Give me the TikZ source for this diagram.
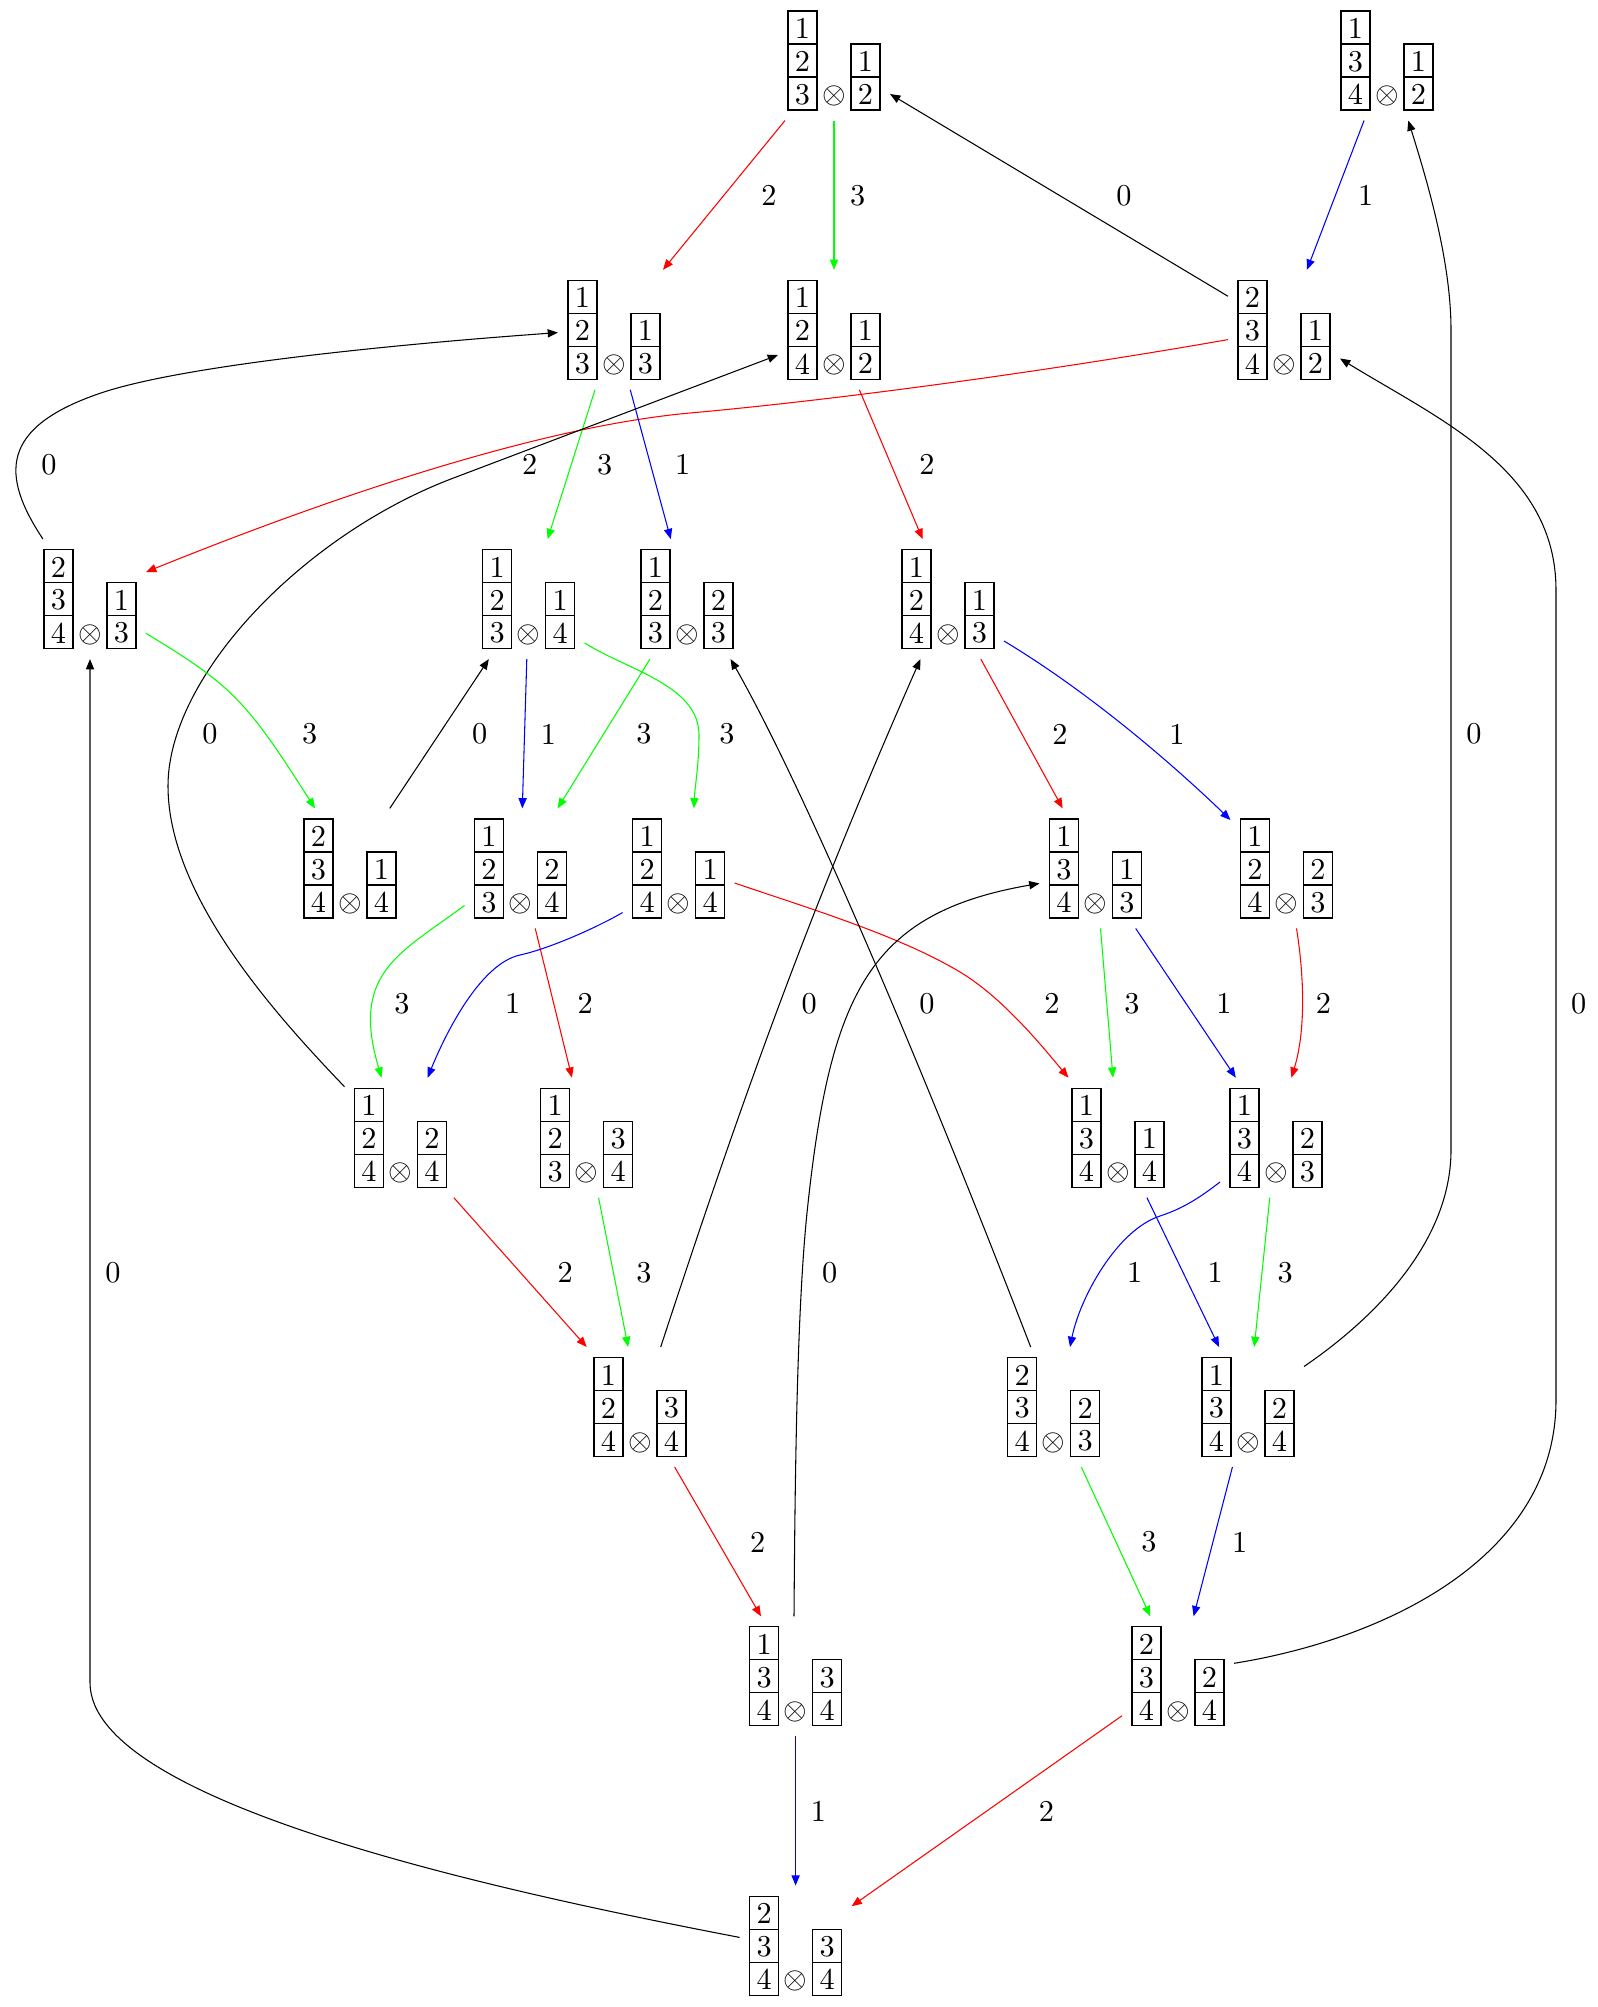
\documentclass[tikz,border=0pt]{standalone}
\usetikzlibrary{arrows.meta}
\tikzset{
  dotnode/.style={rectangle,minimum width=36.96pt,minimum height=39.6pt,inner sep=0pt,outer sep=0pt},
  boxline/.style={line width=0.4pt},
  dig/.style={inner sep=0pt},
  lab/.style={inner sep=0pt},
  conn/.style={line width=0.35pt,-{Triangle[length=3.4pt,width=2.7pt]}},
  e0/.style={conn,black},
  e1/.style={conn,blue},
  e2/.style={conn,red},
  e3/.style={conn,green},
}
\newcommand{\crys}[8]{%
  \node[dotnode] (#1) at (#2,#3) {};
  \begin{scope}[shift={(#2,#3)}]
    \draw[boxline] (-46,-49.5) rectangle (-17,49.5);
    \draw[boxline] (-46,-16.5) -- (-17,-16.5) (-46,16.5) -- (-17,16.5);
    \draw[boxline] (17,-16.5) rectangle (46,49.5);
    \draw[boxline] (17,16.5) -- (46,16.5);
    \node[dig] (#1-a) at (-31.5,-32) {#4};
    \node[dig] (#1-b) at (-31.5,1) {#5};
    \node[dig] (#1-c) at (-31.5,34) {#6};
    \node[dig] (#1-d) at (31.5,1) {#7};
    \node[dig] (#1-e) at (31.5,34) {#8};
    \node[dig] (#1-x) at (0,35.5) {$\otimes$};
  \end{scope}}
\begin{document}
\begin{tikzpicture}[x=0.33pt,y=-0.33pt]
\useasboundingbox (0,0) rectangle (1598,2007);
\crys{A}{834}{60.5}{1}{2}{3}{1}{2}
\crys{B}{1387}{60.5}{1}{3}{4}{1}{2}
\crys{C}{614}{329.8}{1}{2}{3}{1}{3}
\crys{D}{834}{329.8}{1}{2}{4}{1}{2}
\crys{E}{1284}{329.8}{2}{3}{4}{1}{2}
\crys{F}{90}{599.1}{2}{3}{4}{1}{3}
\crys{G}{528.6}{599.1}{1}{2}{3}{1}{4}
\crys{H}{687}{599.1}{1}{2}{3}{2}{3}
\crys{I}{948}{599.1}{1}{2}{4}{1}{3}
\crys{J}{350}{868.4}{2}{3}{4}{1}{4}
\crys{K}{520.5}{868.4}{1}{2}{3}{2}{4}
\crys{L}{678.6}{868.4}{1}{2}{4}{1}{4}
\crys{M}{1095.5}{868.4}{1}{3}{4}{1}{3}
\crys{N}{1286.5}{868.4}{1}{2}{4}{2}{3}
\crys{O}{400.5}{1137.7}{1}{2}{4}{2}{4}
\crys{P}{586.7}{1137.7}{1}{2}{3}{3}{4}
\crys{Q}{1118}{1137.7}{1}{3}{4}{1}{4}
\crys{R}{1276}{1137.7}{1}{3}{4}{2}{3}
\crys{S}{640}{1407}{1}{2}{4}{3}{4}
\crys{T}{1053.6}{1407}{2}{3}{4}{2}{3}
\crys{U}{1248}{1407}{1}{3}{4}{2}{4}
\crys{V}{795.6}{1676.3}{1}{3}{4}{3}{4}
\crys{W}{1178}{1676.3}{2}{3}{4}{2}{4}
\crys{X}{795.6}{1945.6}{2}{3}{4}{3}{4}
% edges
\draw[e2] (A) -- (C);
\draw[e3] (A) -- (D);
\draw[e0] (E) -- (A);
\draw[e1] (B) -- (E);
\draw[e2] ([shift={(-56,9.8)}]E.center) .. controls (1049,371) and (840,399.5) .. (690,413) .. controls (540,426.5) and (331.4,497) .. ([shift={(56,-27.1)}]F.center);
\draw[e0] ([shift={(-47,-60)}]F.center) .. controls (0.5,475.1) and (-0.1,427.5) .. (100,393.3) .. controls (185.1,364.2) and (408.5,343.3) .. ([shift={(-56,2.8)}]C.center);
\draw[e3] (C) -- (G);
\draw[e1] (C) -- (H);
\draw[e2] (D) -- (I);
\draw[e0] ([shift={(-56,-51)}]O.center) .. controls (276,1015.2) and (168,896) .. (168,786) .. controls (168,676) and (303.4,534.8) .. (453,478.2) -- ([shift={(-56,25.2)}]D.center);
\draw[e3] ([shift={(56,34.2)}]F.center) .. controls (232.3,685.6) and (246.3,700.4) .. ([shift={(-35,-60)}]J.center);
\draw[e0] (J) -- (G);
\draw[e1] (G) -- (K);
\draw[e3] (H) -- (K);
\draw[e3] ([shift={(56,43.8)}]G.center) .. controls (626.4,669.7) and (699,685) .. (699,735) .. controls (699,765) and (695,785) .. ([shift={(15.3,-60)}]L.center);
\draw[e2] (I) -- (M);
\draw[e1] ([shift={(56,41.9)}]I.center) .. controls (1089,692) and (1173,764.4) .. ([shift={(-56,-48.4)}]N.center);
\draw[e3] ([shift={(-56,37)}]K.center) .. controls (400.3,953.4) and (350,972.3) .. ([shift={(-18.9,-60)}]O.center);
\draw[e2] (K) -- (P);
\draw[e1] ([shift={(-56,44.1)}]L.center) .. controls (596.5,927.7) and (549.3,948.6) .. (520,955) .. controls (480.9,963.5) and (446.4,1031.4) .. ([shift={(27.1,-60)}]O.center);
\draw[e2] ([shift={(56,14.6)}]L.center) .. controls (810.5,908.8) and (900,936) .. (960,972) .. controls (1002.9,997.7) and (1042.8,1047) .. ([shift={(-49.6,-60)}]Q.center);
\draw[e3] (M) -- (Q);
\draw[e1] (M) -- (R);
\draw[e2] ([shift={(10,60)}]N.center) .. controls (1304,975) and (1306,1030) .. ([shift={(15.4,-60)}]R.center);
\draw[e2] (O) -- (S);
\draw[e3] (P) -- (S);
\draw[e0] ([shift={(20.7,-60)}]S.center) .. controls (753.7,1062.8) and (819.6,888.6) .. ([shift={(-27.6,60)}]I.center);
\draw[e0] ([shift={(-22.9,-60)}]T.center) .. controls (922.7,1067.9) and (805.6,790.6) .. ([shift={(43.6,60)}]H.center);
\draw[e0] ([shift={(-1.6,-60)}]V.center) .. controls (795,1480) and (796.8,1309.4) .. (807.3,1210) .. controls (830.4,991.3) and (870.4,912.7) .. ([shift={(-56,15)}]M.center);
\draw[e1] (Q) -- (U);
\draw[e1] ([shift={(-56,44.3)}]R.center) .. controls (1200.5,1197) and (1183.75,1208.25) .. (1160,1216) .. controls (1117,1230) and (1080,1297.4) .. ([shift={(16.4,-60)}]T.center);
\draw[e3] (R) -- (U);
\draw[e0] ([shift={(56,-40.5)}]U.center) .. controls (1377.7,1316.1) and (1451,1240) .. (1451,1150) -- (1451,330) .. controls (1451,260) and (1426.5,178.9) .. ([shift={(21.3,60)}]B.center);
\draw[e2] (S) -- (V);
\draw[e3] (T) -- (W);
\draw[e1] (U) -- (W);
\draw[e0] ([shift={(56,-13)}]W.center) .. controls (1380,1640) and (1556,1560) .. (1556,1400) -- (1556,590) .. controls (1556,470) and (1440,420) .. ([shift={(56,28.7)}]E.center);
\draw[e1] (V) -- (X);
\draw[e2] (W) -- (X);
\draw[e0] ([shift={(-56,-8.2)}]X.center) .. controls (494.3,1890.2) and (90,1802.6) .. (90,1682.6) -- (F.south);
% labels
\node[lab] (q01) at (769,195.5) {2};
\node[lab] (q02) at (857.7,195.5) {3};
\node[lab] (q03) at (1124,195.5) {0};
\node[lab] (q04) at (1365.7,195.5) {1};
\node[lab] (q05) at (49,464.8) {0};
\node[lab] (q06) at (529.6,464.8) {2};
\node[lab] (q07) at (604.6,464.8) {3};
\node[lab] (q08) at (682.6,464.8) {1};
\node[lab] (q09) at (927,464.8) {2};
\node[lab] (q10) at (210,734.1) {0};
\node[lab] (q11) at (309.7,734.1) {3};
\node[lab] (q12) at (479.6,734.1) {0};
\node[lab] (q13) at (548.5,734.1) {1};
\node[lab] (q14) at (643.9,734.1) {3};
\node[lab] (q15) at (727,734.1) {3};
\node[lab] (q16) at (1060,734.1) {2};
\node[lab] (q17) at (1177,734.1) {1};
\node[lab] (q18) at (1474,734.1) {0};
\node[lab] (q19) at (402,1003.4) {3};
\node[lab] (q20) at (512.8,1003.4) {1};
\node[lab] (q21) at (585.2,1003.4) {2};
\node[lab] (q22) at (809.2,1003.4) {0};
\node[lab] (q23) at (927,1003.4) {0};
\node[lab] (q24) at (1052,1003.4) {2};
\node[lab] (q25) at (1132,1003.4) {3};
\node[lab] (q26) at (1224,1003.4) {1};
\node[lab] (q27) at (1323.5,1003.4) {2};
\node[lab] (q28) at (1578.6,1003.4) {0};
\node[lab] (q29) at (113,1272.7) {0};
\node[lab] (q30) at (565.3,1272.7) {2};
\node[lab] (q31) at (643.9,1272.7) {3};
\node[lab] (q32) at (829.6,1272.7) {0};
\node[lab] (q33) at (1134.7,1272.7) {1};
\node[lab] (q34) at (1215.3,1272.7) {1};
\node[lab] (q35) at (1285.2,1272.7) {3};
\node[lab] (q36) at (757.7,1542) {2};
\node[lab] (q37) at (1149,1542) {3};
\node[lab] (q38) at (1239.8,1542) {1};
\node[lab] (q39) at (818.4,1811.3) {1};
\node[lab] (q40) at (1046.5,1811.3) {2};
\end{tikzpicture}
\end{document}
